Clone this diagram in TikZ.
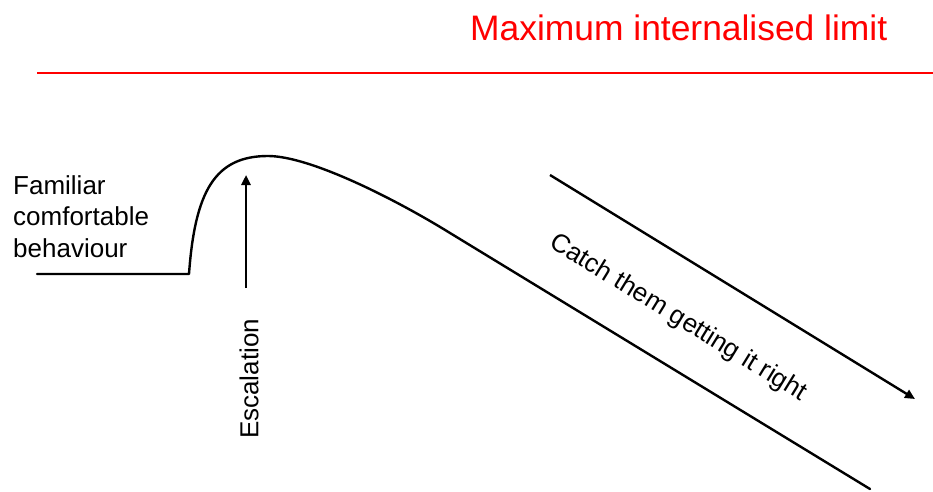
\documentclass[tikz,border=0pt]{standalone}
\usepackage{fontspec}
\setmainfont{Liberation Sans}
\usetikzlibrary{arrows.meta}
\definecolor{limitred}{RGB}{255,0,0}
\begin{document}
\begin{tikzpicture}[x=1pt,y=1pt,
  curveline/.style={line width=2.4pt,line cap=round,line join=round},
  arrowline/.style={line width=2.4pt,-{Triangle[width=9pt,length=10pt]}},
  lbl/.style={inner sep=0pt,font=\fontsize{26}{31.5}\selectfont},
  titletext/.style={inner sep=0pt,text=limitred,font=\fontsize{35.4}{40}\selectfont}]
\useasboundingbox (0,0) rectangle (933,491);
% limit line
\coordinate (r0) at (37,418);
\coordinate (r1) at (933,418);
\draw[limitred,line width=2.2pt] (r0) -- (r1);
\node[titletext,anchor=base west] (title) at (470,450) {Maximum internalised limit};
% behaviour curve
\coordinate (b0) at (37,217);
\coordinate (b1) at (189,217);
\coordinate (pk) at (268,335);
\coordinate (k1) at (450,258);
\coordinate (b2) at (870,2);
\draw[curveline] (b0) -- (b1) .. controls (195,300) and (215,335) .. (pk)
  .. controls (310,335) and (395,292) .. (k1) -- (b2);
% escalation arrow
\coordinate (e0) at (246,203);
\coordinate (e1) at (246,316);
\draw[arrowline] (e0) -- (e1);
\node[lbl,rotate=90] (esc) at (249,112) {Escalation};
% catch arrow
\coordinate (c0) at (550,316);
\coordinate (c1) at (915,92);
\draw[arrowline] (c0) -- (c1);
\node[lbl,rotate=-31.5] (catch) at (678,173) {Catch them getting it right};
% familiar
\node[lbl,anchor=north west,align=left] (fam) at (13,316) {Familiar\\comfortable\\behaviour};
\end{tikzpicture}
\end{document}
